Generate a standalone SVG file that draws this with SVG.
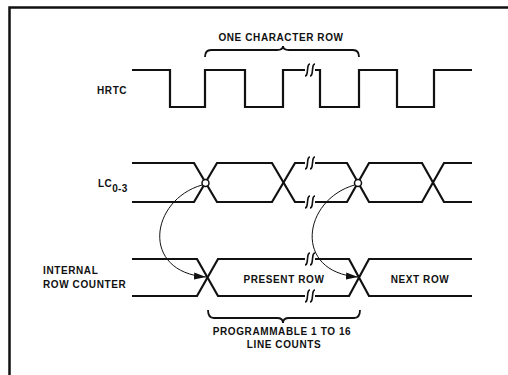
<svg xmlns="http://www.w3.org/2000/svg" width="508" height="375" viewBox="0 0 508 375">
<style>
.w{fill:none;stroke:#111;stroke-width:2.2;stroke-linejoin:miter}
.br{fill:none;stroke:#111;stroke-width:1.6}
.brace{fill:none;stroke:#111;stroke-width:1.8}
.t{font-family:"Liberation Sans",Arial,sans-serif;font-weight:bold;font-size:10px;fill:#111;letter-spacing:0.6px}
.c{text-anchor:middle}
.arr{fill:none;stroke:#111;stroke-width:1}
</style>
<defs>
<marker id="ah" markerUnits="userSpaceOnUse" markerWidth="13" markerHeight="9" refX="12" refY="4" orient="auto">
<path d="M0,0.5 L12,4 L0,7.5 Z" fill="#111"/>
</marker>
<path id="sq" d="M2.5,-6 C0,-6 0.5,-3 0,0 C-0.5,3 0,6 -2.5,6"/>
</defs>
<rect width="508" height="375" fill="#fff"/>
<g id="frame"><path d="M9.5,375 V7.5 H508" fill="none" stroke="#111" stroke-width="2.5"/></g>

<g id="hrtc">
<text class="t" x="97" y="94">HRTC</text>
<path class="w" d="M132,70 H170 V107 H205 V70 H245 V107 H283 V70 H305 M315,70 H320 V107 H359 V70 H397 V107 H434 V70 H472"/>
<use href="#sq" class="br" x="307.5" y="70"/><use href="#sq" class="br" x="312.5" y="70"/>
</g>

<g id="one-char-row">
<path class="brace" d="M205,57 Q205,50 211,50 H277 Q283,50 283,46 Q283,50 289,50 H353 Q359,50 359,57"/>
<text class="t c" x="281" y="41">ONE CHARACTER ROW</text>
</g>

<g id="lc">
<text class="t" x="98" y="187" style="letter-spacing:0.4px">LC<tspan font-size="10" dy="4.5">0-3</tspan></text>
<path class="w" d="M132,163 H194 L217,202 H272 L295,163 H305 M315,163 H347 L369,202 H422 L444,163 H472"/>
<path class="w" d="M132,202 H194 L217,163 H272 L295,202 H305 M315,202 H347 L369,163 H422 L444,202 H472"/>
<use href="#sq" class="br" x="307.5" y="163"/><use href="#sq" class="br" x="312.5" y="163"/>
<use href="#sq" class="br" x="307.5" y="202"/><use href="#sq" class="br" x="312.5" y="202"/>
<circle cx="205.5" cy="183" r="3.5" fill="#fff" stroke="#111" stroke-width="1.5"/>
<circle cx="358" cy="183" r="3.5" fill="#fff" stroke="#111" stroke-width="1.5"/>
</g>

<g id="irc">
<text class="t" x="43" y="274">INTERNAL</text>
<text class="t" x="43" y="287.5">ROW COUNTER</text>
<path class="w" d="M132,259 H197 L218,296 H305 M315,296 H349 L369,259 H472"/>
<path class="w" d="M132,296 H197 L218,259 H305 M315,259 H349 L369,296 H472"/>
<use href="#sq" class="br" x="307.5" y="259"/><use href="#sq" class="br" x="312.5" y="259"/>
<use href="#sq" class="br" x="307.5" y="296"/><use href="#sq" class="br" x="312.5" y="296"/>
<text class="t c" x="284" y="282.5">PRESENT ROW</text>
<text class="t c" x="420" y="282.5">NEXT ROW</text>
</g>

<g id="line-counts">
<path class="brace" d="M208,310 Q208,318 214,318 H277 Q283,318 283,323 Q283,318 289,318 H354 Q360,318 360,310"/>
<text class="t c" x="282" y="335">PROGRAMMABLE 1 TO 16</text>
<text class="t c" x="284" y="347.5">LINE COUNTS</text>
</g>

<g id="connectors">
<path class="arr" d="M202,185 C150,200 140,272 206,277" marker-end="url(#ah)"/>
<path class="arr" d="M354.5,185 C302.5,200 292.5,272 358,277" marker-end="url(#ah)"/>
</g>
</svg>
